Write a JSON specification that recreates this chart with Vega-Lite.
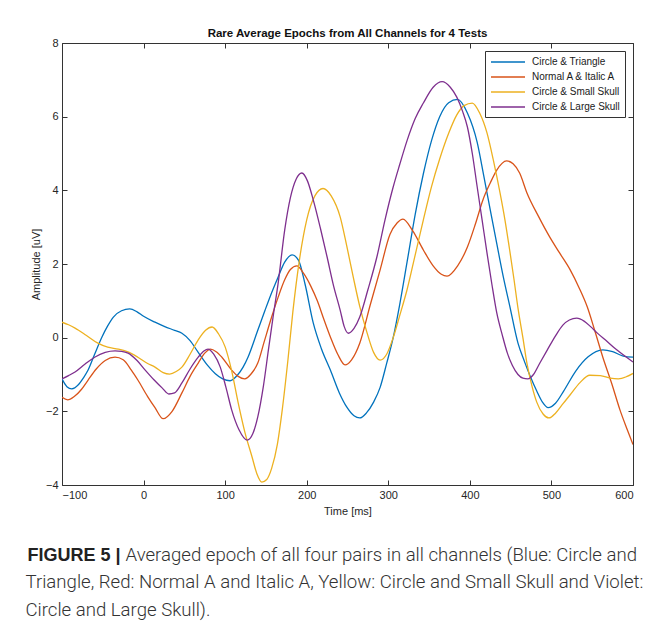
{
"$schema": "https://vega.github.io/schema/vega-lite/v6.json",
"width": 571, "height": 442,
"autosize": {"type": "none"},
"padding": {"left": 62, "top": 43, "right": 21, "bottom": 142},
"background": "white",
"title": {"text": "Rare  Average Epochs from All Channels for 4 Tests", "orient": "top", "anchor": "middle", "offset": -2, "font": "Liberation Sans", "fontSize": 11.5, "fontWeight": "bold", "color": "#111111"},
"datasets": {"curves": [
{"s":"Circle & Triangle","t":-100,"v":-1.12},{"s":"Circle & Triangle","t":-94,"v":-1.33},{"s":"Circle & Triangle","t":-88,"v":-1.39},{"s":"Circle & Triangle","t":-80,"v":-1.28},{"s":"Circle & Triangle","t":-74,"v":-1.1},{"s":"Circle & Triangle","t":-68,"v":-0.88},{"s":"Circle & Triangle","t":-60,"v":-0.45},{"s":"Circle & Triangle","t":-51,"v":0.02},{"s":"Circle & Triangle","t":-44,"v":0.32},{"s":"Circle & Triangle","t":-37,"v":0.56},{"s":"Circle & Triangle","t":-27,"v":0.73},{"s":"Circle & Triangle","t":-17,"v":0.78},{"s":"Circle & Triangle","t":-8,"v":0.7},{"s":"Circle & Triangle","t":0,"v":0.58},{"s":"Circle & Triangle","t":14,"v":0.42},{"s":"Circle & Triangle","t":26,"v":0.3},{"s":"Circle & Triangle","t":38,"v":0.2},{"s":"Circle & Triangle","t":47,"v":0.12},{"s":"Circle & Triangle","t":57,"v":-0.08},{"s":"Circle & Triangle","t":67,"v":-0.4},{"s":"Circle & Triangle","t":78,"v":-0.74},{"s":"Circle & Triangle","t":88,"v":-0.98},{"s":"Circle & Triangle","t":97,"v":-1.12},{"s":"Circle & Triangle","t":106,"v":-1.17},{"s":"Circle & Triangle","t":115,"v":-1.02},{"s":"Circle & Triangle","t":122,"v":-0.8},{"s":"Circle & Triangle","t":128,"v":-0.53},{"s":"Circle & Triangle","t":140,"v":0.2},{"s":"Circle & Triangle","t":149,"v":0.75},{"s":"Circle & Triangle","t":157,"v":1.22},{"s":"Circle & Triangle","t":165,"v":1.65},{"s":"Circle & Triangle","t":173,"v":2.05},{"s":"Circle & Triangle","t":182,"v":2.25},{"s":"Circle & Triangle","t":190,"v":2.1},{"s":"Circle & Triangle","t":198,"v":1.45},{"s":"Circle & Triangle","t":208,"v":0.4},{"s":"Circle & Triangle","t":218,"v":-0.3},{"s":"Circle & Triangle","t":229,"v":-0.88},{"s":"Circle & Triangle","t":240,"v":-1.5},{"s":"Circle & Triangle","t":249,"v":-1.88},{"s":"Circle & Triangle","t":258,"v":-2.12},{"s":"Circle & Triangle","t":265,"v":-2.18},{"s":"Circle & Triangle","t":273,"v":-2.05},{"s":"Circle & Triangle","t":282,"v":-1.75},{"s":"Circle & Triangle","t":290,"v":-1.35},{"s":"Circle & Triangle","t":298,"v":-0.7},{"s":"Circle & Triangle","t":306,"v":0.0},{"s":"Circle & Triangle","t":314,"v":0.9},{"s":"Circle & Triangle","t":323,"v":2.05},{"s":"Circle & Triangle","t":333,"v":3.35},{"s":"Circle & Triangle","t":343,"v":4.45},{"s":"Circle & Triangle","t":353,"v":5.35},{"s":"Circle & Triangle","t":363,"v":6.0},{"s":"Circle & Triangle","t":374,"v":6.38},{"s":"Circle & Triangle","t":385,"v":6.47},{"s":"Circle & Triangle","t":397,"v":6.1},{"s":"Circle & Triangle","t":409,"v":5.3},{"s":"Circle & Triangle","t":417,"v":4.4},{"s":"Circle & Triangle","t":425,"v":3.47},{"s":"Circle & Triangle","t":433,"v":2.55},{"s":"Circle & Triangle","t":441,"v":1.65},{"s":"Circle & Triangle","t":449,"v":0.85},{"s":"Circle & Triangle","t":459,"v":-0.15},{"s":"Circle & Triangle","t":467,"v":-0.65},{"s":"Circle & Triangle","t":474,"v":-1.05},{"s":"Circle & Triangle","t":482,"v":-1.45},{"s":"Circle & Triangle","t":489,"v":-1.75},{"s":"Circle & Triangle","t":496,"v":-1.9},{"s":"Circle & Triangle","t":505,"v":-1.78},{"s":"Circle & Triangle","t":515,"v":-1.45},{"s":"Circle & Triangle","t":530,"v":-0.9},{"s":"Circle & Triangle","t":545,"v":-0.52},{"s":"Circle & Triangle","t":563,"v":-0.33},{"s":"Circle & Triangle","t":575,"v":-0.38},{"s":"Circle & Triangle","t":588,"v":-0.5},{"s":"Circle & Triangle","t":600,"v":-0.53},
{"s":"Normal A & Italic A","t":-100,"v":-1.62},{"s":"Normal A & Italic A","t":-93,"v":-1.69},{"s":"Normal A & Italic A","t":-85,"v":-1.6},{"s":"Normal A & Italic A","t":-76,"v":-1.4},{"s":"Normal A & Italic A","t":-68,"v":-1.15},{"s":"Normal A & Italic A","t":-58,"v":-0.85},{"s":"Normal A & Italic A","t":-47,"v":-0.62},{"s":"Normal A & Italic A","t":-35,"v":-0.53},{"s":"Normal A & Italic A","t":-25,"v":-0.6},{"s":"Normal A & Italic A","t":-15,"v":-0.88},{"s":"Normal A & Italic A","t":-7,"v":-1.15},{"s":"Normal A & Italic A","t":5,"v":-1.6},{"s":"Normal A & Italic A","t":14,"v":-1.9},{"s":"Normal A & Italic A","t":24,"v":-2.2},{"s":"Normal A & Italic A","t":35,"v":-2.0},{"s":"Normal A & Italic A","t":47,"v":-1.5},{"s":"Normal A & Italic A","t":57,"v":-1.05},{"s":"Normal A & Italic A","t":67,"v":-0.69},{"s":"Normal A & Italic A","t":75,"v":-0.42},{"s":"Normal A & Italic A","t":82,"v":-0.31},{"s":"Normal A & Italic A","t":89,"v":-0.38},{"s":"Normal A & Italic A","t":96,"v":-0.53},{"s":"Normal A & Italic A","t":108,"v":-0.88},{"s":"Normal A & Italic A","t":116,"v":-1.05},{"s":"Normal A & Italic A","t":124,"v":-1.12},{"s":"Normal A & Italic A","t":132,"v":-0.98},{"s":"Normal A & Italic A","t":140,"v":-0.69},{"s":"Normal A & Italic A","t":148,"v":-0.1},{"s":"Normal A & Italic A","t":157,"v":0.56},{"s":"Normal A & Italic A","t":165,"v":1.1},{"s":"Normal A & Italic A","t":173,"v":1.57},{"s":"Normal A & Italic A","t":180,"v":1.85},{"s":"Normal A & Italic A","t":188,"v":1.95},{"s":"Normal A & Italic A","t":196,"v":1.75},{"s":"Normal A & Italic A","t":205,"v":1.4},{"s":"Normal A & Italic A","t":213,"v":1.0},{"s":"Normal A & Italic A","t":221,"v":0.5},{"s":"Normal A & Italic A","t":229,"v":0.02},{"s":"Normal A & Italic A","t":238,"v":-0.45},{"s":"Normal A & Italic A","t":247,"v":-0.74},{"s":"Normal A & Italic A","t":255,"v":-0.6},{"s":"Normal A & Italic A","t":265,"v":-0.15},{"s":"Normal A & Italic A","t":278,"v":0.9},{"s":"Normal A & Italic A","t":290,"v":1.84},{"s":"Normal A & Italic A","t":302,"v":2.8},{"s":"Normal A & Italic A","t":311,"v":3.12},{"s":"Normal A & Italic A","t":318,"v":3.22},{"s":"Normal A & Italic A","t":330,"v":2.9},{"s":"Normal A & Italic A","t":343,"v":2.38},{"s":"Normal A & Italic A","t":355,"v":1.95},{"s":"Normal A & Italic A","t":365,"v":1.72},{"s":"Normal A & Italic A","t":372,"v":1.67},{"s":"Normal A & Italic A","t":385,"v":1.95},{"s":"Normal A & Italic A","t":397,"v":2.46},{"s":"Normal A & Italic A","t":407,"v":3.1},{"s":"Normal A & Italic A","t":416,"v":3.74},{"s":"Normal A & Italic A","t":425,"v":4.2},{"s":"Normal A & Italic A","t":433,"v":4.55},{"s":"Normal A & Italic A","t":445,"v":4.8},{"s":"Normal A & Italic A","t":453,"v":4.72},{"s":"Normal A & Italic A","t":461,"v":4.47},{"s":"Normal A & Italic A","t":470,"v":3.93},{"s":"Normal A & Italic A","t":484,"v":3.3},{"s":"Normal A & Italic A","t":498,"v":2.73},{"s":"Normal A & Italic A","t":510,"v":2.3},{"s":"Normal A & Italic A","t":523,"v":1.84},{"s":"Normal A & Italic A","t":534,"v":1.35},{"s":"Normal A & Italic A","t":544,"v":0.83},{"s":"Normal A & Italic A","t":553,"v":0.2},{"s":"Normal A & Italic A","t":563,"v":-0.53},{"s":"Normal A & Italic A","t":574,"v":-1.25},{"s":"Normal A & Italic A","t":584,"v":-1.96},{"s":"Normal A & Italic A","t":593,"v":-2.5},{"s":"Normal A & Italic A","t":600,"v":-2.9},
{"s":"Circle & Small Skull","t":-100,"v":0.42},{"s":"Circle & Small Skull","t":-92,"v":0.35},{"s":"Circle & Small Skull","t":-84,"v":0.26},{"s":"Circle & Small Skull","t":-70,"v":0.06},{"s":"Circle & Small Skull","t":-56,"v":-0.15},{"s":"Circle & Small Skull","t":-44,"v":-0.26},{"s":"Circle & Small Skull","t":-31,"v":-0.31},{"s":"Circle & Small Skull","t":-20,"v":-0.38},{"s":"Circle & Small Skull","t":-7,"v":-0.53},{"s":"Circle & Small Skull","t":5,"v":-0.7},{"s":"Circle & Small Skull","t":14,"v":-0.8},{"s":"Circle & Small Skull","t":24,"v":-0.95},{"s":"Circle & Small Skull","t":32,"v":-0.99},{"s":"Circle & Small Skull","t":40,"v":-0.92},{"s":"Circle & Small Skull","t":47,"v":-0.8},{"s":"Circle & Small Skull","t":57,"v":-0.45},{"s":"Circle & Small Skull","t":67,"v":-0.06},{"s":"Circle & Small Skull","t":76,"v":0.2},{"s":"Circle & Small Skull","t":84,"v":0.29},{"s":"Circle & Small Skull","t":92,"v":0.1},{"s":"Circle & Small Skull","t":100,"v":-0.25},{"s":"Circle & Small Skull","t":108,"v":-0.9},{"s":"Circle & Small Skull","t":116,"v":-1.77},{"s":"Circle & Small Skull","t":124,"v":-2.55},{"s":"Circle & Small Skull","t":133,"v":-3.24},{"s":"Circle & Small Skull","t":139,"v":-3.7},{"s":"Circle & Small Skull","t":145,"v":-3.92},{"s":"Circle & Small Skull","t":151,"v":-3.85},{"s":"Circle & Small Skull","t":157,"v":-3.55},{"s":"Circle & Small Skull","t":164,"v":-2.9},{"s":"Circle & Small Skull","t":170,"v":-1.96},{"s":"Circle & Small Skull","t":177,"v":-0.6},{"s":"Circle & Small Skull","t":183,"v":0.7},{"s":"Circle & Small Skull","t":191,"v":2.1},{"s":"Circle & Small Skull","t":200,"v":3.2},{"s":"Circle & Small Skull","t":210,"v":3.85},{"s":"Circle & Small Skull","t":220,"v":4.05},{"s":"Circle & Small Skull","t":230,"v":3.85},{"s":"Circle & Small Skull","t":241,"v":3.28},{"s":"Circle & Small Skull","t":249,"v":2.5},{"s":"Circle & Small Skull","t":257,"v":1.65},{"s":"Circle & Small Skull","t":265,"v":0.85},{"s":"Circle & Small Skull","t":274,"v":0.13},{"s":"Circle & Small Skull","t":282,"v":-0.4},{"s":"Circle & Small Skull","t":290,"v":-0.61},{"s":"Circle & Small Skull","t":298,"v":-0.45},{"s":"Circle & Small Skull","t":306,"v":0.0},{"s":"Circle & Small Skull","t":314,"v":0.6},{"s":"Circle & Small Skull","t":323,"v":1.3},{"s":"Circle & Small Skull","t":333,"v":2.25},{"s":"Circle & Small Skull","t":343,"v":3.2},{"s":"Circle & Small Skull","t":353,"v":4.1},{"s":"Circle & Small Skull","t":363,"v":4.85},{"s":"Circle & Small Skull","t":374,"v":5.55},{"s":"Circle & Small Skull","t":384,"v":6.05},{"s":"Circle & Small Skull","t":393,"v":6.3},{"s":"Circle & Small Skull","t":403,"v":6.37},{"s":"Circle & Small Skull","t":412,"v":6.1},{"s":"Circle & Small Skull","t":421,"v":5.56},{"s":"Circle & Small Skull","t":429,"v":4.8},{"s":"Circle & Small Skull","t":437,"v":3.93},{"s":"Circle & Small Skull","t":443,"v":3.2},{"s":"Circle & Small Skull","t":449,"v":2.35},{"s":"Circle & Small Skull","t":454,"v":1.6},{"s":"Circle & Small Skull","t":459,"v":0.8},{"s":"Circle & Small Skull","t":465,"v":0.0},{"s":"Circle & Small Skull","t":470,"v":-0.7},{"s":"Circle & Small Skull","t":476,"v":-1.3},{"s":"Circle & Small Skull","t":482,"v":-1.75},{"s":"Circle & Small Skull","t":490,"v":-2.08},{"s":"Circle & Small Skull","t":497,"v":-2.18},{"s":"Circle & Small Skull","t":505,"v":-2.05},{"s":"Circle & Small Skull","t":514,"v":-1.8},{"s":"Circle & Small Skull","t":523,"v":-1.55},{"s":"Circle & Small Skull","t":535,"v":-1.22},{"s":"Circle & Small Skull","t":547,"v":-1.02},{"s":"Circle & Small Skull","t":560,"v":-1.03},{"s":"Circle & Small Skull","t":572,"v":-1.1},{"s":"Circle & Small Skull","t":582,"v":-1.12},{"s":"Circle & Small Skull","t":592,"v":-1.06},{"s":"Circle & Small Skull","t":600,"v":-0.97},
{"s":"Circle & Large Skull","t":-100,"v":-1.12},{"s":"Circle & Large Skull","t":-92,"v":-1.03},{"s":"Circle & Large Skull","t":-84,"v":-0.93},{"s":"Circle & Large Skull","t":-72,"v":-0.72},{"s":"Circle & Large Skull","t":-60,"v":-0.53},{"s":"Circle & Large Skull","t":-47,"v":-0.4},{"s":"Circle & Large Skull","t":-35,"v":-0.36},{"s":"Circle & Large Skull","t":-27,"v":-0.37},{"s":"Circle & Large Skull","t":-19,"v":-0.42},{"s":"Circle & Large Skull","t":-8,"v":-0.62},{"s":"Circle & Large Skull","t":2,"v":-0.88},{"s":"Circle & Large Skull","t":13,"v":-1.15},{"s":"Circle & Large Skull","t":23,"v":-1.37},{"s":"Circle & Large Skull","t":31,"v":-1.53},{"s":"Circle & Large Skull","t":38,"v":-1.5},{"s":"Circle & Large Skull","t":47,"v":-1.23},{"s":"Circle & Large Skull","t":57,"v":-0.85},{"s":"Circle & Large Skull","t":67,"v":-0.53},{"s":"Circle & Large Skull","t":74,"v":-0.36},{"s":"Circle & Large Skull","t":79,"v":-0.31},{"s":"Circle & Large Skull","t":86,"v":-0.45},{"s":"Circle & Large Skull","t":94,"v":-0.8},{"s":"Circle & Large Skull","t":101,"v":-1.35},{"s":"Circle & Large Skull","t":108,"v":-1.96},{"s":"Circle & Large Skull","t":117,"v":-2.5},{"s":"Circle & Large Skull","t":127,"v":-2.78},{"s":"Circle & Large Skull","t":134,"v":-2.6},{"s":"Circle & Large Skull","t":140,"v":-2.15},{"s":"Circle & Large Skull","t":147,"v":-1.3},{"s":"Circle & Large Skull","t":153,"v":-0.34},{"s":"Circle & Large Skull","t":159,"v":0.6},{"s":"Circle & Large Skull","t":165,"v":1.48},{"s":"Circle & Large Skull","t":173,"v":2.92},{"s":"Circle & Large Skull","t":180,"v":3.8},{"s":"Circle & Large Skull","t":187,"v":4.3},{"s":"Circle & Large Skull","t":194,"v":4.47},{"s":"Circle & Large Skull","t":201,"v":4.25},{"s":"Circle & Large Skull","t":208,"v":3.74},{"s":"Circle & Large Skull","t":217,"v":2.95},{"s":"Circle & Large Skull","t":225,"v":2.19},{"s":"Circle & Large Skull","t":233,"v":1.4},{"s":"Circle & Large Skull","t":241,"v":0.75},{"s":"Circle & Large Skull","t":246,"v":0.3},{"s":"Circle & Large Skull","t":251,"v":0.12},{"s":"Circle & Large Skull","t":258,"v":0.25},{"s":"Circle & Large Skull","t":265,"v":0.56},{"s":"Circle & Large Skull","t":275,"v":1.3},{"s":"Circle & Large Skull","t":286,"v":2.19},{"s":"Circle & Large Skull","t":296,"v":3.2},{"s":"Circle & Large Skull","t":306,"v":4.09},{"s":"Circle & Large Skull","t":314,"v":4.7},{"s":"Circle & Large Skull","t":323,"v":5.35},{"s":"Circle & Large Skull","t":333,"v":5.95},{"s":"Circle & Large Skull","t":343,"v":6.37},{"s":"Circle & Large Skull","t":355,"v":6.8},{"s":"Circle & Large Skull","t":366,"v":6.95},{"s":"Circle & Large Skull","t":376,"v":6.8},{"s":"Circle & Large Skull","t":384,"v":6.53},{"s":"Circle & Large Skull","t":391,"v":6.15},{"s":"Circle & Large Skull","t":397,"v":5.72},{"s":"Circle & Large Skull","t":403,"v":5.0},{"s":"Circle & Large Skull","t":409,"v":4.09},{"s":"Circle & Large Skull","t":415,"v":3.2},{"s":"Circle & Large Skull","t":421,"v":2.3},{"s":"Circle & Large Skull","t":427,"v":1.45},{"s":"Circle & Large Skull","t":433,"v":0.67},{"s":"Circle & Large Skull","t":440,"v":0.05},{"s":"Circle & Large Skull","t":446,"v":-0.42},{"s":"Circle & Large Skull","t":452,"v":-0.75},{"s":"Circle & Large Skull","t":459,"v":-1.0},{"s":"Circle & Large Skull","t":465,"v":-1.1},{"s":"Circle & Large Skull","t":471,"v":-1.12},{"s":"Circle & Large Skull","t":478,"v":-1.0},{"s":"Circle & Large Skull","t":486,"v":-0.68},{"s":"Circle & Large Skull","t":495,"v":-0.33},{"s":"Circle & Large Skull","t":505,"v":0.05},{"s":"Circle & Large Skull","t":514,"v":0.34},{"s":"Circle & Large Skull","t":522,"v":0.48},{"s":"Circle & Large Skull","t":531,"v":0.53},{"s":"Circle & Large Skull","t":540,"v":0.45},{"s":"Circle & Large Skull","t":548,"v":0.3},{"s":"Circle & Large Skull","t":556,"v":0.13},{"s":"Circle & Large Skull","t":568,"v":-0.1},{"s":"Circle & Large Skull","t":580,"v":-0.33},{"s":"Circle & Large Skull","t":590,"v":-0.5},{"s":"Circle & Large Skull","t":600,"v":-0.66}
]},
"data": {"name": "curves"},
"layer": [
 {
  "mark": {"type": "line", "interpolate": "monotone", "strokeWidth": 1.3, "clip": true},
  "encoding": {
   "x": {"field": "t", "type": "quantitative", "scale": {"domain": [-100, 600], "nice": false, "zero": false},
         "axis": {"orient": "bottom", "values": [-100, 0, 100, 200, 300, 400, 500, 600], "title": "Time [ms]", "titlePadding": 5}},
   "y": {"field": "v", "type": "quantitative", "scale": {"domain": [-4, 8], "nice": false, "zero": false},
         "axis": {"orient": "left", "values": [-4, -2, 0, 2, 4, 6, 8], "title": "Amplitude [uV]", "titlePadding": 4}},
   "color": {"field": "s", "type": "nominal",
             "scale": {"domain": ["Circle & Triangle", "Normal A & Italic A", "Circle & Small Skull", "Circle & Large Skull"], "range": ["#0072BD", "#D95319", "#EDB120", "#7E2F8E"]},
             "legend": {"title": null, "orient": "top-right", "offset": 8}}
  }
 },
 {
  "mark": {"type": "line", "strokeOpacity": 0},
  "encoding": {
   "x": {"field": "t", "type": "quantitative",
         "axis": {"orient": "top", "values": [-100, 0, 100, 200, 300, 400, 500, 600], "labels": false,
                  "title": ["Triangle, Red: Normal A and Italic A, Yellow: Circle and Small Skull and Violet:", "Circle and Large Skull)."],
                  "titleFont": "Roboto", "titleFontSize": 18.6, "titleFontWeight": 300, "titleColor": "#333333", "titleLineHeight": 27.5,
                  "titleAlign": "left", "titleBaseline": "alphabetic", "titleAngle": 0, "titleX": -37, "titleY": 544.5}},
   "y": {"field": "v", "type": "quantitative",
         "axis": {"orient": "right", "values": [-4, -2, 0, 2, 4, 6, 8], "labels": false,
                  "title": "FIGURE 5 |", "titleFont": "Liberation Sans", "titleFontSize": 18, "titleFontWeight": "bold", "titleColor": "#222222",
                  "titleAlign": "left", "titleBaseline": "alphabetic", "titleAngle": 0, "titleX": -606, "titleY": 517}}
  }
 },
 {
  "mark": {"type": "line", "strokeOpacity": 0},
  "encoding": {
   "x": {"field": "t", "type": "quantitative", "axis": null},
   "y": {"field": "v", "type": "quantitative",
         "axis": {"orient": "left", "labels": false, "ticks": false, "domain": false,
                  "title": "Averaged epoch of all four pairs in all channels (Blue: Circle and",
                  "titleFont": "Roboto", "titleFontSize": 18.6, "titleFontWeight": 300, "titleColor": "#333333",
                  "titleAlign": "left", "titleBaseline": "alphabetic", "titleAngle": 0, "titleX": 63, "titleY": 517}}
  }
 }
],
"resolve": {"axis": {"x": "independent", "y": "independent"}},
"config": {
 "view": {"stroke": "#333333", "strokeWidth": 1},
 "axis": {"grid": false, "domain": false, "tickSize": -5, "tickColor": "#333333", "tickWidth": 1,
          "labelFont": "Liberation Sans", "labelFontSize": 11, "labelColor": "#262626", "labelPadding": 9,
          "titleFont": "Liberation Sans", "titleFontSize": 11, "titleFontWeight": "normal", "titleColor": "#262626"},
 "legend": {"padding": 5, "strokeColor": "#333333", "fillColor": "white", "symbolType": "M-1,0H5.8", "symbolSize": 100,
            "symbolStrokeWidth": 1.3, "labelFont": "Liberation Sans", "labelFontSize": 10, "labelOffset": 30, "rowPadding": 4, "labelColor": "#1a1a1a"}
}
}
